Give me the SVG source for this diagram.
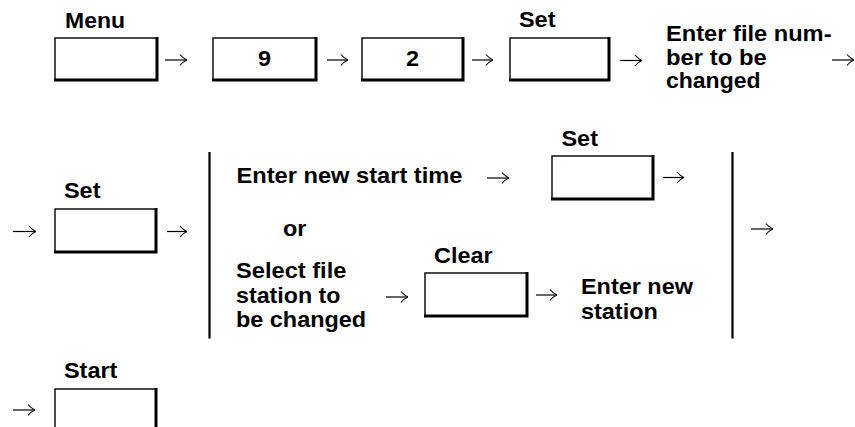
<svg xmlns="http://www.w3.org/2000/svg" width="855" height="427" viewBox="0 0 855 427">
<style>
  .t { font-family: "Liberation Sans", Arial, Helvetica, sans-serif; font-weight: bold; font-size: 21.5px; fill: #000; }
  .m { text-anchor: middle; }
  .box { fill: #fff; stroke: #000; stroke-width: 1.4; }
  .sh { fill: none; stroke: #000; stroke-width: 3; stroke-linecap: square; }
  .arr { fill: none; stroke: #000; stroke-width: 1.2; marker-end: url(#ah); }
  .bar { stroke: #000; stroke-width: 2.2; }
</style>
<defs>
  <marker id="ah" markerUnits="userSpaceOnUse" viewBox="0 0 8 12" refX="7.6" refY="6" markerWidth="8" markerHeight="12" orient="auto">
    <path d="M0.5,0.5 Q4,4.5 7.6,6 Q4,7.5 0.5,11.5" fill="none" stroke="#000" stroke-width="1.1"/>
  </marker>
</defs>
<rect width="855" height="427" fill="#fff"/>

<g id="connectors">
  <path class="arr" d="M165,60 H187"/>
  <path class="arr" d="M327,60 H348"/>
  <path class="arr" d="M472,60 H493"/>
  <path class="arr" d="M620,60.5 H642"/>
  <path class="arr" d="M832,60 H854"/>
  <path class="arr" d="M13,231.5 H36"/>
  <path class="arr" d="M167,231.5 H187"/>
  <path class="arr" d="M487,178 H509"/>
  <path class="arr" d="M663,177.5 H684"/>
  <path class="arr" d="M751,229 H773"/>
  <path class="arr" d="M386,297 H408"/>
  <path class="arr" d="M536,295 H557"/>
  <path class="arr" d="M13,410 H35"/>
</g>

<g id="brackets">
  <line class="bar" x1="209.5" y1="152" x2="209.5" y2="338.5"/>
  <line class="bar" x1="732.5" y1="152" x2="732.5" y2="338.5"/>
</g>

<g id="menu">
  <text class="t" transform="translate(65 27.5) scale(1.07 1)">Menu</text>
  <rect class="box" x="55" y="38" width="102" height="42"/>
  <polyline class="sh" points="157,38.5 157,80 55.5,80"/>
</g>

<g id="key9">
  <rect class="box" x="213" y="38" width="103" height="42"/>
  <polyline class="sh" points="316,38.5 316,80 213.5,80"/>
  <text class="t m" transform="translate(264.5 65.5) scale(1.09 1)">9</text>
</g>

<g id="key2">
  <rect class="box" x="362" y="38" width="101" height="42"/>
  <polyline class="sh" points="463,38.5 463,80 362.5,80"/>
  <text class="t m" transform="translate(412.5 65.5) scale(1.09 1)">2</text>
</g>

<g id="set1">
  <text class="t" transform="translate(519 27) scale(1.09 1)">Set</text>
  <rect class="box" x="510" y="38" width="99" height="42"/>
  <polyline class="sh" points="609,38.5 609,80 510.5,80"/>
</g>

<g id="enter-file-number">
  <text class="t" transform="translate(666 41) scale(1.1 1)">Enter file num-</text>
  <text class="t" transform="translate(666 64.5) scale(1.11 1)">ber to be</text>
  <text class="t" transform="translate(666 88) scale(1.07 1)">changed</text>
</g>

<g id="set2">
  <text class="t" transform="translate(64 198) scale(1.09 1)">Set</text>
  <rect class="box" x="55" y="209" width="101" height="43"/>
  <polyline class="sh" points="156,209.5 156,252 55.5,252"/>
</g>

<g id="enter-start-time">
  <text class="t" transform="translate(236.5 183) scale(1.1 1)">Enter new start time</text>
</g>

<g id="set3">
  <text class="t" transform="translate(561.5 145.5) scale(1.09 1)">Set</text>
  <rect class="box" x="552" y="156" width="101" height="43"/>
  <polyline class="sh" points="653,156.5 653,199 552.5,199"/>
</g>

<g id="or">
  <text class="t" transform="translate(283 236) scale(1.09 1)">or</text>
</g>

<g id="select-station">
  <text class="t" transform="translate(236 278) scale(1.1 1)">Select file</text>
  <text class="t" transform="translate(236 302.5) scale(1.08 1)">station to</text>
  <text class="t" transform="translate(236 327) scale(1.09 1)">be changed</text>
</g>

<g id="clear">
  <text class="t" transform="translate(434 263) scale(1.09 1)">Clear</text>
  <rect class="box" x="425" y="273" width="102" height="43"/>
  <polyline class="sh" points="527,273.5 527,316 425.5,316"/>
</g>

<g id="enter-station">
  <text class="t" transform="translate(581 293.5) scale(1.09 1)">Enter new</text>
  <text class="t" transform="translate(581 319) scale(1.09 1)">station</text>
</g>

<g id="start">
  <text class="t" transform="translate(64 378) scale(1.09 1)">Start</text>
  <rect class="box" x="55" y="389" width="101" height="50"/>
  <polyline class="sh" points="156,389.5 156,440"/>
</g>
</svg>
